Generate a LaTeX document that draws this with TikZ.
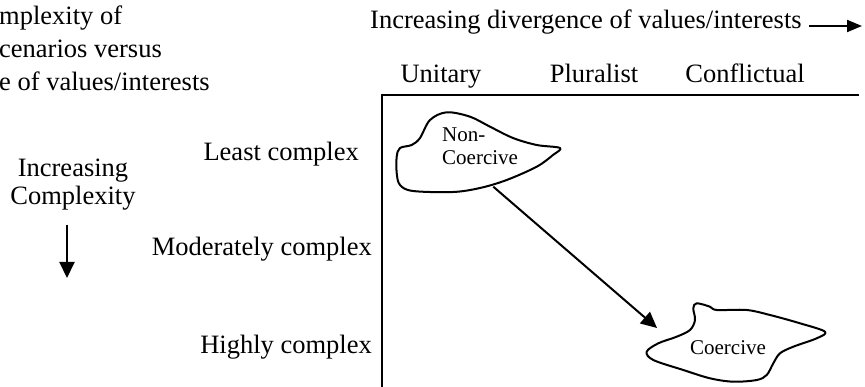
\documentclass[tikz,border=0pt]{standalone}
\usepackage{fontspec}
\setmainfont{Liberation Serif}
\usetikzlibrary{arrows.meta}
\tikzset{
 lbl/.style={inner sep=0pt, font=\fontsize{26.5}{33}\selectfont},
 small/.style={inner sep=0pt, font=\fontsize{21}{23}\selectfont, align=left},
 blob/.style={line width=2pt, line join=round},
 axis/.style={line width=2pt},
 arr/.style={line width=2pt, -{Triangle[length=16pt,width=15pt]}},
 arrsmall/.style={line width=2pt, -{Triangle[length=15pt,width=12pt]}},
}
\begin{document}
\begin{tikzpicture}[x=1pt,y=-1pt]
\useasboundingbox (0,0) rectangle (865,387);
% title (cut off at the left edge)
\node[lbl, anchor=base west] (t1) at (-1,25) {mplexity of};
\node[lbl, anchor=base west] (t2) at (-1,58) {cenarios versus};
\node[lbl, anchor=base west] (t3) at (-1,91) {e of values/interests};
% top axis label
\node[lbl, anchor=base west] (div) at (370,29) {Increasing divergence of values/interests};
\coordinate (divA) at (809,26);
\coordinate (divB) at (862,26);
\draw[arrsmall] (divA) -- (divB);
% column heads
\node[lbl, anchor=base] (unit) at (441,83) {Unitary};
\node[lbl, anchor=base] (plur) at (594,83) {Pluralist};
\node[lbl, anchor=base] (conf) at (745,83) {Conflictual};
% frame
\coordinate (fTL) at (382,95);
\coordinate (fTR) at (859,95);
\coordinate (fBL) at (382,388);
\draw[axis] (fTR) -- (fTL) -- (fBL);
% row labels
\node[lbl, anchor=base east] (least) at (359,161) {Least complex};
\node[lbl, anchor=base east] (mod) at (372,256) {Moderately complex};
\node[lbl, anchor=base east] (high) at (372,353) {Highly complex};
% increasing complexity
\node[lbl, anchor=base] (inc1) at (73,177) {Increasing};
\node[lbl, anchor=base] (inc2) at (73,205) {Complexity};
\coordinate (cA) at (67,225);
\coordinate (cB) at (67,278);
\draw[arr] (cA) -- (cB);
% Non-Coercive blob
\draw[blob] plot[smooth cycle, tension=0.55] coordinates {
 (396.7,156.7) (400,148) (411.7,145) (420,138) (430,120) (446.7,112.3)
 (470,116.7) (490,126.7) (513,138) (536.7,145) (560,148) (553,155)
 (536.7,166.7) (506.7,180) (480,188) (453,192) (413,191) (400,185) (396.7,173)};
\node[small, anchor=base west] (nc1) at (442,142) {Non-};
\node[small, anchor=base west] (nc2) at (442,165) {Coercive};
% Coercive blob
\draw[blob] plot[smooth cycle, tension=0.55] coordinates {
 (646.7,351.7) (658.3,343.3) (676.7,336.7) (690,330) (695,320) (693.3,308.3)
 (696.7,303.3) (710,306.7) (716.7,310) (746.7,310) (770,315) (800,323.3)
 (825,331.7) (816.7,338.3) (793.3,346.7) (780,353.3) (773.3,363.3)
 (766.7,375) (756.7,380) (733.3,381.7) (710,378.3) (683.3,370) (653.3,360)};
\node[small, anchor=center] (co) at (728,348) {Coercive};
% arrow between blobs
\coordinate (ncOut) at (493.3,186.7);
\coordinate (coIn) at (657,328);
\draw[arr] (ncOut) -- (coIn);
\end{tikzpicture}
\end{document}
